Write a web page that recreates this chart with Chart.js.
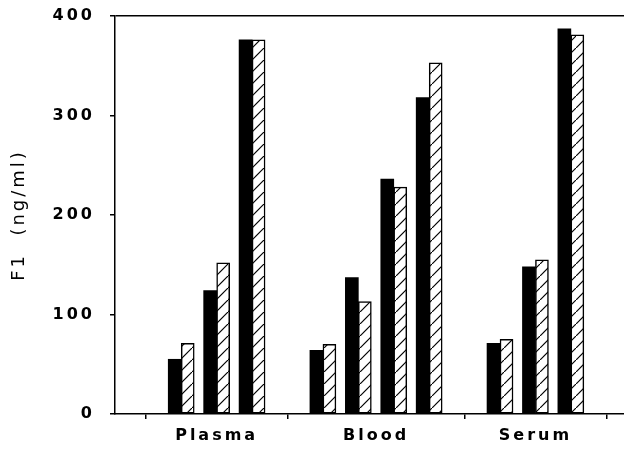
<!DOCTYPE html>
<html lang="en">
<head>
    <meta charset="UTF-8">
    <title>F1 levels</title>
    <script src="https://cdn.jsdelivr.net/npm/chart.js"></script>
    <style>
        body {
            margin: 0;
            background: #fff;
        }
        #chart {
            display: block;
        }
    </style>
</head>
<body>
    <canvas id="chart" width="624" height="449"></canvas>

    <script>
        // sample types and the bar-pair slots each one occupies on the axis
        const categories = ['Plasma', 'Blood', 'Serum'];
        const categorySlots = [[1, 2, 3], [5, 6, 7, 8], [10, 11, 12]];

        // F1 (ng/ml), one value per slot
        const solidValues = [55, 124, 376, 64, 137, 236, 318, 71, 148, 387];
        const hatchedValues = [71, 152, 376, 70, 113, 228, 353, 75, 155, 381];

        const yTicks = [0, 100, 200, 300, 400];

        const slots = categorySlots.flat();
        const labelPos = categorySlots.map(s => s.reduce((a, b) => a + b, 0) / s.length);
        // tick marks sit in the gaps between the groups
        const sepPos = [categorySlots[0][0] - 1];
        for (let i = 0; i < categorySlots.length - 1; i++) {
            const a = categorySlots[i], b = categorySlots[i + 1];
            sepPos.push((a[a.length - 1] + b[0]) / 2);
        }
        const last = categorySlots[categorySlots.length - 1];
        sepPos.push(last[last.length - 1] + 1);
        const xTickValues = sepPos.concat(labelPos).sort((a, b) => a - b);

        const ctx = document.getElementById('chart').getContext('2d');

        function hatchPattern() {
            const tile = document.createElement('canvas');
            tile.width = 12;
            tile.height = 12;
            const g = tile.getContext('2d');
            g.fillStyle = '#fff';
            g.fillRect(0, 0, 12, 12);
            g.strokeStyle = '#000';
            g.lineWidth = 1.2;
            g.beginPath();
            g.moveTo(-1, 13);
            g.lineTo(13, -1);
            g.stroke();
            return ctx.createPattern(tile, 'repeat');
        }

        // old lettering is widely spaced
        const spacing = {
            id: 'spacing',
            beforeDraw(chart) {
                chart.ctx.letterSpacing = '3px';
            }
        };

        new Chart(ctx, {
            type: 'bar',
            data: {
                datasets: [{
                    data: slots.map((x, i) => ({ x: x, y: solidValues[i] })),
                    backgroundColor: '#000',
                    borderColor: '#000',
                    borderWidth: 0,
                    barThickness: 13
                }, {
                    data: slots.map((x, i) => ({ x: x, y: hatchedValues[i] })),
                    backgroundColor: hatchPattern(),
                    borderColor: '#000',
                    borderWidth: 1.5,
                    borderSkipped: false,
                    barThickness: 13
                }]
            },
            plugins: [spacing],
            options: {
                responsive: false,
                animation: false,
                layout: {
                    padding: { left: 9, top: 16, right: 0, bottom: 0 }
                },
                plugins: {
                    legend: { display: false },
                    tooltip: { enabled: false }
                },
                scales: {
                    x: {
                        type: 'linear',
                        min: -0.87,
                        max: 13.5,
                        offset: false,
                        afterBuildTicks: scale => {
                            scale.ticks = xTickValues.map(v => ({ value: v }));
                        },
                        afterFit: scale => { scale.height = 35; },
                        grid: {
                            offset: false,
                            drawOnChartArea: false,
                            tickLength: 5,
                            lineWidth: 1.5,
                            tickColor: c => labelPos.includes(c.tick && c.tick.value) ? 'rgba(0,0,0,0)' : '#000'
                        },
                        border: { color: '#000', width: 1.5 },
                        ticks: {
                            autoSkip: false,
                            maxRotation: 0,
                            padding: 7,
                            color: '#000',
                            font: { family: 'DejaVu Sans', size: 16, weight: 'bold' },
                            callback: v => {
                                const i = labelPos.indexOf(v);
                                return i >= 0 ? categories[i] : '';
                            }
                        }
                    },
                    y: {
                        min: 0,
                        max: 400,
                        afterBuildTicks: scale => {
                            scale.ticks = yTicks.map(v => ({ value: v }));
                        },
                        afterFit: scale => {
                            scale.width = 106;
                            scale.paddingTop = 0;
                            scale.paddingBottom = 0;
                        },
                        grid: {
                            tickLength: 5,
                            lineWidth: 1.5,
                            color: c => (c.tick && c.tick.value === 400) ? '#000' : 'rgba(0,0,0,0)',
                            tickColor: '#000'
                        },
                        border: { color: '#000', width: 1.5 },
                        ticks: {
                            padding: 15,
                            color: '#000',
                            font: { family: 'DejaVu Sans', size: 16, weight: 'bold' }
                        },
                        title: {
                            display: true,
                            text: 'F1  (ng/ml)',
                            color: '#000',
                            padding: 0,
                            font: { family: 'DejaVu Sans', size: 18 }
                        }
                    }
                }
            }
        });
    </script>
</body>
</html>
